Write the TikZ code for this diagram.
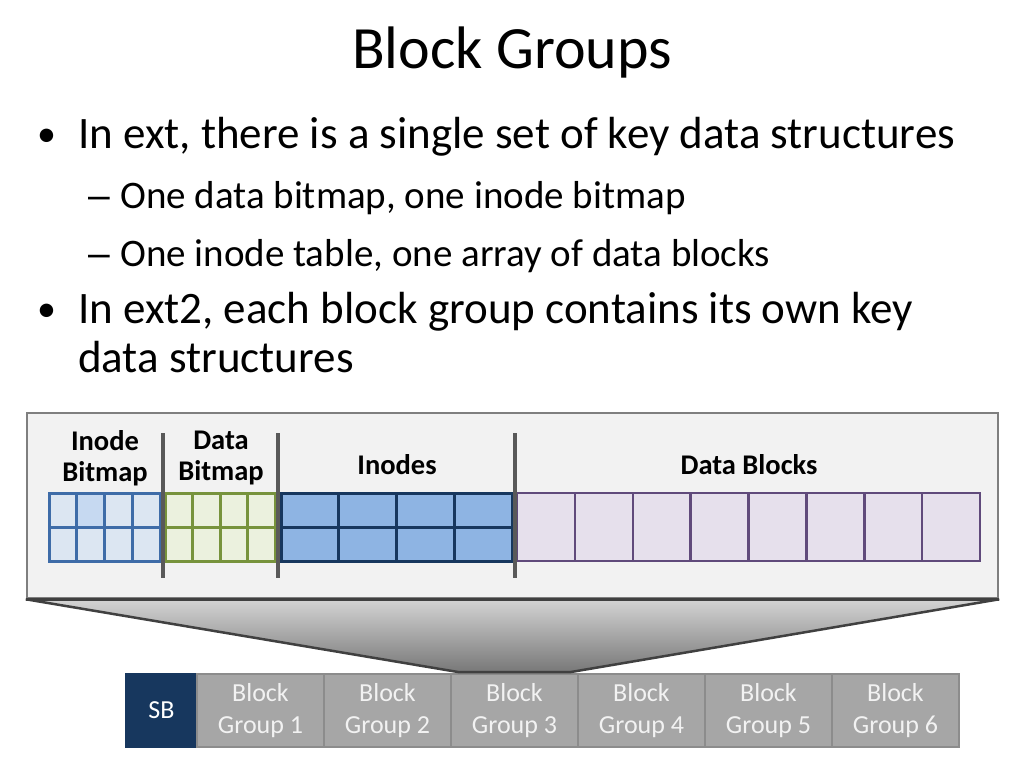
\documentclass[tikz,border=0pt]{standalone}
\usepackage{fontspec}
\setmainfont{Carlito}
\newfontfamily\dashfont{Liberation Sans}
\usetikzlibrary{calc}
\definecolor{framefill}{HTML}{F2F2F2}
\definecolor{frameline}{HTML}{7F7F7F}
\definecolor{sepgray}{HTML}{595959}
\definecolor{ibfill}{HTML}{DCE6F2}
\definecolor{ibdark}{HTML}{C6D9F1}
\definecolor{ibline}{HTML}{3E6CA8}
\definecolor{dbfill}{HTML}{EBF1DE}
\definecolor{dbline}{HTML}{77933C}
\definecolor{inofill}{HTML}{8EB4E3}
\definecolor{inoline}{HTML}{17375E}
\definecolor{blkfill}{HTML}{E6E0EC}
\definecolor{blkline}{HTML}{604A7B}
\definecolor{sbfill}{HTML}{17375E}
\definecolor{grpfill}{HTML}{A6A6A6}
\definecolor{grpline}{HTML}{8C8C8C}
\definecolor{funline}{HTML}{404040}

\begin{document}
\begin{tikzpicture}[x=1pt,y=-1pt,
    txt/.style={inner sep=0pt,anchor=base west},
    lbl/.style={inner sep=0pt,align=center,font=\fontsize{28.5}{31}\selectfont\bfseries},
    grp/.style={draw=grpline,fill=grpfill,line width=2pt,minimum width=127pt,
        minimum height=73pt,inner sep=0pt,text=white!95!black,align=center,
        font=\fontsize{26}{32}\selectfont},
    sep/.style={draw=sepgray,line width=3.5pt},
    ibcell/.style={draw=ibline,fill=ibfill,line width=3pt},
    dbcell/.style={draw=dbline,fill=dbfill,line width=3pt},
    inocell/.style={draw=inoline,fill=inofill,line width=3pt},
    blkcell/.style={draw=blkline,fill=blkfill,line width=2.5pt}]

    \fill[white] (0,0) rectangle (1024,768);
    \useasboundingbox (0,0) rectangle (1024,768);

    \node[inner sep=0pt,anchor=base,font=\fontsize{60}{66}\selectfont] (title) at (512,68) {Block Groups};

    \node[txt,font=\fontsize{38}{44}\selectfont] (b1) at (37,146) {•};
    \node[txt,font=\fontsize{45}{50}\selectfont] (l1) at (78,148) {In ext, there is a single set of key data structures};
    \node[txt,font=\fontsize{39}{44}\dashfont] (d1) at (88,208) {–};
    \node[txt,font=\fontsize{39}{44}\selectfont] (l2) at (120,208) {One data bitmap, one inode bitmap};
    \node[txt,font=\fontsize{39}{44}\dashfont] (d2) at (88,266) {–};
    \node[txt,font=\fontsize{39}{44}\selectfont] (l3) at (120,266) {One inode table, one array of data blocks};
    \node[txt,font=\fontsize{38}{44}\selectfont] (b2) at (37,321) {•};
    \node[txt,font=\fontsize{45}{50}\selectfont] (l4) at (78,323) {In ext2, each block group contains its own key};
    \node[txt,font=\fontsize{45}{50}\selectfont] (l5) at (78,372) {data structures};

    \node[draw=sbfill,fill=sbfill,line width=2pt,minimum width=71pt,minimum height=73pt,
        inner sep=0pt,text=white,font=\fontsize{26}{32}\selectfont] (sb) at (161.5,710.5) {SB};
    \foreach \k in {1,...,6}
        \node[grp] (bg\k) at ({260.5+127*(\k-1)},710.5) {Block\\Group \k};

    \node[draw=frameline,fill=framefill,line width=2.5pt,minimum width=971pt,
        minimum height=185pt,inner sep=0pt] (frame) at (512.5,505.5) {};

    \coordinate (fl) at ($(bg3.north west)+(8,-1)$);
    \coordinate (fr) at ($(bg3.north east)+(-8,-1)$);
    \shade[top color=black!17,bottom color=black!53] (frame.south west) -- (frame.south east)
        -- (fr) -- (fl) -- cycle;
    \draw[funline,line width=2.5pt] (frame.south west) -- (fl) -- (fr) -- (frame.south east);
    \draw[funline,line width=2.5pt] (frame.south west) -- (frame.south east);

    \foreach \i in {0,...,3}
        \foreach \j in {0,1}
            \draw[ibcell] ({49+27.75*\i},{493+34*\j}) rectangle +(27.75,34);
    \draw[ibcell,fill=ibdark] (76.75,493) rectangle +(27.75,34);
    \foreach \i in {0,...,3}
        \foreach \j in {0,1}
            \draw[dbcell] ({165+27.5*\i},{493+34*\j}) rectangle +(27.5,34);
    \foreach \i in {0,...,3}
        \foreach \j in {0,1}
            \draw[inocell] ({281+57.75*\i},{493+34*\j}) rectangle +(57.75,34);
    \foreach \i in {0,...,7}
        \draw[blkcell] ({517+57.875*\i},493) rectangle +(57.875,68);

    \draw[sep] (163,433) -- (163,578);
    \draw[sep] (278,433) -- (278,578);
    \draw[sep] (515,433) -- (515,578);

    \node[lbl] (ibl) at (105,458) {Inode\\Bitmap};
    \node[lbl] (dbl) at (221,458) {Data\\Bitmap};
    \node[lbl,anchor=base] (inl) at (397,474) {Inodes};
    \node[lbl,anchor=base] (dbk) at (749,474) {Data Blocks};
\end{tikzpicture}
\end{document}
